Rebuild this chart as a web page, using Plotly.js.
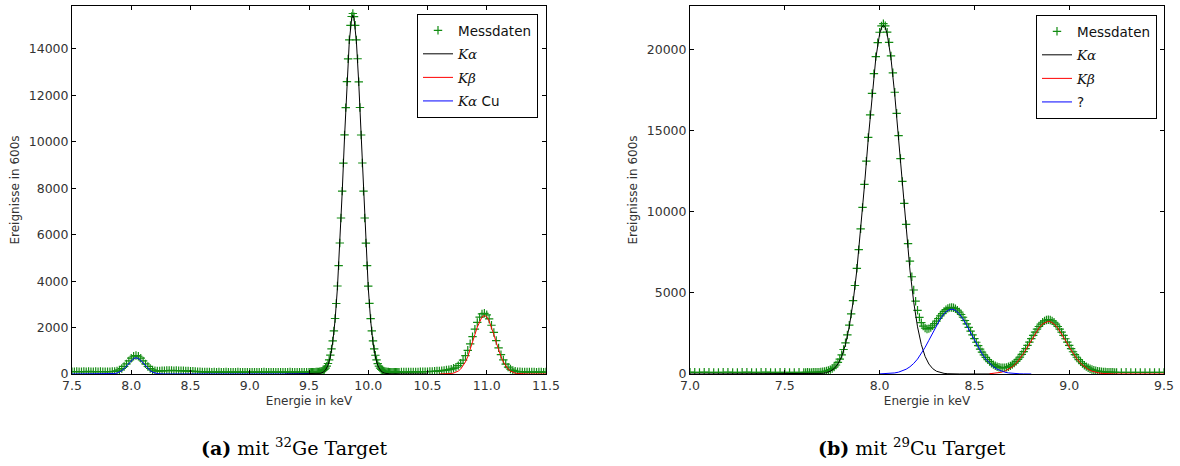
<!DOCTYPE html>
<html>
<head>
<meta charset="utf-8">
<script src="https://cdn.plot.ly/plotly-3.0.1.min.js"></script>
<style>html,body{margin:0;padding:0;background:#fff}#chart{width:1180px;height:466px}</style>
</head>
<body>
<div id="chart"></div>
<script>
// ---------- (a) Ge target: measured data ----------
const geX = [
7.50,7.52,7.54,7.56,7.58,7.60,7.62,7.64,7.66,7.68,
7.70,7.72,7.74,7.76,7.78,7.80,7.82,7.84,7.86,7.88,
7.90,7.92,7.94,7.96,7.98,8.00,8.02,8.04,8.06,8.08,
8.10,8.12,8.14,8.16,8.18,8.20,8.22,8.24,8.26,8.28,
8.30,8.32,8.34,8.36,8.38,8.40,8.42,8.44,8.46,8.48,
8.50,8.52,8.54,8.56,8.58,8.60,8.62,8.64,8.66,8.68,
8.70,8.72,8.74,8.76,8.78,8.80,8.82,8.84,8.86,8.88,
8.90,8.92,8.94,8.96,8.98,9.00,9.02,9.04,9.06,9.08,
9.10,9.12,9.14,9.16,9.18,9.20,9.22,9.24,9.26,9.28,
9.30,9.32,9.34,9.36,9.38,9.40,9.42,9.44,9.46,9.48,
9.50,9.51,9.52,9.53,9.54,9.55,9.56,9.57,9.58,9.59,
9.60,9.61,9.62,9.63,9.64,9.65,9.66,9.67,9.68,9.69,
9.70,9.71,9.72,9.73,9.74,9.75,9.76,9.77,9.78,9.79,
9.80,9.81,9.82,9.83,9.84,9.85,9.86,9.87,9.88,9.89,
9.90,9.91,9.92,9.93,9.94,9.95,9.96,9.97,9.98,9.99,
10.00,10.01,10.02,10.03,10.04,10.05,10.06,10.07,10.08,10.09,
10.10,10.11,10.12,10.13,10.14,10.15,10.16,10.17,10.18,10.19,
10.20,10.21,10.22,10.23,10.24,10.25,
10.26,10.28,10.30,10.32,10.34,10.36,10.38,10.40,10.42,10.44,
10.46,10.48,10.50,10.52,10.54,10.56,10.58,10.60,10.62,10.64,
10.66,10.68,10.70,10.72,10.74,10.76,10.78,10.80,10.82,10.84,
10.86,10.88,10.90,10.92,10.94,10.96,10.98,11.00,11.02,11.04,
11.06,11.08,11.10,11.12,11.14,11.16,11.18,11.20,11.22,11.24,
11.26,11.28,11.30,11.32,11.34,11.36,11.38,11.40,11.42,11.44,
11.46,11.48,11.50];
const geY = [
104,99,108,102,97,106,101,110,103,98,
105,100,107,102,99,104,101,108,114,135,
174,236,325,438,564,681,764,795,764,681,
564,438,325,236,174,140,128,131,138,145,
150,148,153,146,151,144,141,138,135,130,
124,117,110,104,98,93,90,86,84,82,
85,80,83,79,81,84,78,82,80,77,
83,79,81,78,80,82,79,77,81,78,
80,83,79,81,78,80,82,79,77,81,
78,80,83,79,81,78,80,82,79,81,
78,80,77,81,79,82,84,83,90,94,
110,124,156,194,255,338,452,607,810,1082,
1425,1858,2390,3037,3790,4665,5642,6718,7876,9085,
10296,11474,12590,13573,14395,15012,15398,15528,15392,15018,
14392,13578,12585,11479,10293,9088,7874,6719,5640,4667,
3786,3038,2389,1857,1423,1083,808,606,449,337,
252,197,153,128,107,98,88,84,80,79,
81,78,80,82,79,81,
82,83,84,86,85,88,89,90,92,94,
97,100,104,108,113,119,126,134,144,156,
170,188,212,245,290,360,460,600,790,1020,
1300,1610,1930,2220,2450,2590,2615,2550,2372,2100,
1790,1440,1125,835,606,428,296,214,158,122,
104,96,90,88,85,86,83,84,82,85,
83,81,84];

// (a) fits
const geKaX = [9.30,9.56,9.58,9.60,9.62,9.64,9.66,9.68,9.70,9.72,9.74,9.76,9.78,9.80,9.82,9.84,9.86,9.87,
               9.88,9.90,9.92,9.94,9.96,9.98,10.00,10.02,10.04,10.06,10.08,10.10,10.12,10.14,10.16,10.18,10.50];
const geKaY = [0,5,13,33,79,178,375,735,1350,2316,3714,5568,7802,10220,12513,14320,15320,15450,
               15320,14320,12513,10220,7802,5568,3714,2316,1350,735,375,178,79,33,13,5,0];
const geKbX = [10.60,10.62,10.64,10.66,10.68,10.70,10.72,10.74,10.76,10.78,10.80,10.82,10.84,10.86,10.88,10.90,10.92,10.94,10.96,10.98,
               11.00,11.02,11.04,11.06,11.08,11.10,11.12,11.14,11.16,11.18,11.20,11.22,11.24,11.26,11.28,11.30,11.32,11.34,11.50];
const geKbY = [0,1,2,4,10,20,39,72,127,213,341,519,752,1036,1359,1698,2018,2283,2459,2520,
               2459,2283,2018,1698,1359,1036,752,519,341,213,127,72,39,20,10,4,2,1,0];
const geCuX = [7.50,7.78,7.80,7.82,7.84,7.86,7.88,7.90,7.92,7.94,7.96,7.98,8.00,8.02,8.04,
               8.06,8.08,8.10,8.12,8.14,8.16,8.18,8.20,8.22,8.24,8.26,8.28,9.50];
const geCuY = [0,0,1,3,8,19,40,79,141,230,343,469,586,669,700,
               669,586,469,343,230,141,79,40,19,8,3,1,0];

// ---------- (b) Cu target: measured data ----------
const cuX = [
7.000,7.025,7.050,7.075,7.100,7.125,7.150,7.175,7.200,7.225,7.250,7.275,
7.300,7.325,7.350,7.375,7.400,7.425,7.450,7.475,7.500,7.525,7.550,7.575,
7.60,7.61,7.62,7.63,7.64,7.65,7.66,7.67,7.68,7.69,
7.70,7.71,7.72,7.73,7.74,7.75,7.76,7.77,7.78,7.79,
7.80,7.81,7.82,7.83,7.84,7.85,7.86,7.87,7.88,7.89,
7.90,7.91,7.92,7.93,7.94,7.95,7.96,7.97,7.98,7.99,
8.00,8.01,8.02,8.03,8.04,8.05,8.06,8.07,8.08,8.09,
8.10,8.11,8.12,8.13,8.14,8.15,8.16,8.17,8.18,8.19,
8.20,8.21,8.22,8.23,8.24,8.25,8.26,8.27,8.28,8.29,
8.30,8.31,8.32,8.33,8.34,8.35,8.36,8.37,8.38,8.39,
8.40,8.41,8.42,8.43,8.44,8.45,8.46,8.47,8.48,8.49,
8.50,8.51,8.52,8.53,8.54,8.55,8.56,8.57,8.58,8.59,
8.60,8.61,8.62,8.63,8.64,8.65,8.66,8.67,8.68,8.69,
8.70,8.71,8.72,8.73,8.74,8.75,8.76,8.77,8.78,8.79,
8.80,8.81,8.82,8.83,8.84,8.85,8.86,8.87,8.88,8.89,
8.90,8.91,8.92,8.93,8.94,8.95,8.96,8.97,8.98,8.99,
9.00,9.01,9.02,9.03,9.04,9.05,9.06,9.07,9.08,9.09,
9.10,9.11,9.12,9.13,9.14,9.15,9.16,9.17,9.18,9.19,
9.20,9.21,9.22,9.23,9.24,9.25,
9.275,9.300,9.325,9.350,9.375,9.400,9.425,9.450,9.475,9.500];
const cuY = [
110,104,98,112,106,101,95,108,113,100,97,105,
110,102,99,107,111,103,96,104,109,101,98,106,
102,98,104,101,103,105,106,112,118,127,
140,158,182,221,268,340,430,556,714,920,
1185,1510,1925,2410,3015,3705,4530,5460,6520,7670,
8950,10280,11700,13130,14590,15990,17310,18530,19580,20440,
21080,21470,21610,21480,21090,20460,19620,18580,17380,16080,
14700,13290,11880,10520,9230,8040,6960,6000,5180,4490,
3930,3490,3170,2955,2830,2780,2800,2865,2975,3110,
3260,3425,3580,3730,3860,3965,4045,4095,4105,4085,
4030,3940,3820,3670,3500,3300,3095,2870,2640,2410,
2180,1960,1745,1540,1355,1183,1028,890,768,663,
577,505,451,412,388,381,387,411,449,504,
578,669,776,903,1045,1205,1380,1568,1765,1970,
2177,2381,2578,2763,2930,3074,3192,3279,3332,3350,
3332,3279,3192,3074,2930,2762,2577,2380,2175,1968,
1762,1564,1374,1197,1034,887,755,640,540,454,
382,323,273,234,202,177,157,142,131,122,
116,111,108,105,103,102,
99,104,101,97,103,100,98,102,99,101];

// (b) fits
const cuKaX = [7.00,7.60,7.62,7.64,7.66,7.68,7.70,7.72,7.74,7.76,7.78,7.80,7.82,7.84,7.86,7.88,7.90,7.92,7.94,7.96,7.98,8.00,
               8.01,8.02,8.03,
               8.04,8.06,8.08,8.10,8.12,8.14,8.16,8.18,8.20,8.22,8.24,8.26,8.28,8.30,8.32,8.34,8.36,8.38,8.40,8.42,8.60];
const cuKaY = [0,0,1,2,7,17,39,83,170,331,615,1083,1821,2909,4427,6411,8839,11597,14482,17215,19479,20975,
               21368,21500,21368,
               20975,19479,17215,14482,11597,8839,6411,4427,2909,1821,1083,615,331,170,83,39,17,7,2,1,0];
const cuKbX = [8.58,8.60,8.62,8.64,8.66,8.68,8.70,8.72,8.74,8.76,8.78,8.80,8.82,8.84,8.86,8.88,8.89,
               8.90,8.92,8.94,8.96,8.98,9.00,9.02,9.04,9.06,9.08,9.10,9.12,9.14,9.16,9.18,9.20,9.22,9.24,9.50];
const cuKbY = [16,31,57,102,173,282,440,655,934,1274,1662,2075,2477,2830,3092,3232,3250,
               3232,3092,2830,2477,2075,1662,1274,934,655,440,282,173,102,57,31,16,8,4,0];
const cuUnkX = [8.00,8.02,8.04,8.06,8.08,8.10,8.12,8.14,8.16,8.18,8.20,8.22,8.24,8.26,8.28,8.30,8.32,8.34,8.36,8.38,
                8.40,8.42,8.44,8.46,8.48,8.50,8.52,8.54,8.56,8.58,8.60,8.62,8.64,8.66,8.68,8.70,8.72,8.74,8.76,8.78,8.80];
const cuUnkY = [6,11,21,38,67,114,186,294,446,652,920,1253,1644,2082,2542,2992,3397,3720,3928,4000,
                3928,3720,3397,2992,2542,2082,1644,1253,920,652,446,294,186,114,67,38,21,11,6,3,1];

// ---------- ticks & labels ----------
const xTicksA = [7.5,8.0,8.5,9.0,9.5,10.0,10.5,11.0,11.5];
const yTicksA = [0,2000,4000,6000,8000,10000,12000,14000];
const xTicksB = [7.0,7.5,8.0,8.5,9.0,9.5];
const yTicksB = [0,5000,10000,15000,20000];
const xTitle = 'Energie in keV';
const yTitle = 'Ereignisse in 600s';
const KA = '<span style="font-family:DejaVu Serif;font-style:italic">Kα</span>';
const KB = '<span style="font-family:DejaVu Serif;font-style:italic">Kβ</span>';
const namesA = ['Messdaten', KA, KB, KA + ' Cu'];
const namesB = ['Messdaten', KA, KB, '?'];
const captionA = '<b>(a)</b> mit <sup>32</sup>Ge Target';
const captionB = '<b>(b)</b> mit <sup>29</sup>Cu Target';

const W = 1180, H = 466;
const GREEN = '#128c12';

function dataTrace(x, y, name, xa, ya, leg) {
  return {x, y, name, xaxis: xa, yaxis: ya, legend: leg, legendgroup: leg + name,
    type: 'scatter', mode: 'markers',
    marker: {symbol: 'cross-thin', size: 6, color: GREEN, line: {width: 1.2, color: GREEN}}};
}
function fitTrace(x, y, name, color, xa, ya, leg) {
  return {x, y, name, xaxis: xa, yaxis: ya, legend: leg, legendgroup: leg + name,
    type: 'scatter', mode: 'lines', line: {color, width: 1}};
}

const traces = [
  dataTrace(geX, geY, namesA[0], 'x', 'y', 'legend'),
  fitTrace(geKaX, geKaY, namesA[1], '#000000', 'x', 'y', 'legend'),
  fitTrace(geKbX, geKbY, namesA[2], '#ff0000', 'x', 'y', 'legend'),
  fitTrace(geCuX, geCuY, namesA[3], '#0000ff', 'x', 'y', 'legend'),
  dataTrace(cuX, cuY, namesB[0], 'x2', 'y2', 'legend2'),
  fitTrace(cuKaX, cuKaY, namesB[1], '#000000', 'x2', 'y2', 'legend2'),
  fitTrace(cuKbX, cuKbY, namesB[2], '#ff0000', 'x2', 'y2', 'legend2'),
  fitTrace(cuUnkX, cuUnkY, namesB[3], '#0000ff', 'x2', 'y2', 'legend2')
];

function axisBase() {
  return {showline: true, linecolor: '#000', linewidth: 1, mirror: 'ticks', ticks: 'inside',
    ticklen: 4, tickcolor: '#000', showgrid: false, zeroline: false, fixedrange: true,
    tickfont: {family: 'DejaVu Sans', size: 12.5, color: '#333'}};
}
const xa = Object.assign(axisBase(), {domain: [72 / W, 546 / W], range: [7.5, 11.5], anchor: 'y',
  tickmode: 'array', tickvals: xTicksA, ticktext: xTicksA.map(v => v.toFixed(1)),
  title: {text: xTitle, font: {size: 12, color: '#333'}, standoff: 4}});
const ya = Object.assign(axisBase(), {domain: [92 / H, 460 / H], range: [0, 15850], anchor: 'x',
  tickmode: 'array', tickvals: yTicksA, ticktext: yTicksA.map(String),
  title: {text: yTitle, font: {size: 12, color: '#333'}, standoff: 6}});
const xb = Object.assign(axisBase(), {domain: [690 / W, 1164 / W], range: [7.0, 9.5], anchor: 'y2',
  tickmode: 'array', tickvals: xTicksB, ticktext: xTicksB.map(v => v.toFixed(1)),
  title: {text: xTitle, font: {size: 12, color: '#333'}, standoff: 4}});
const yb = Object.assign(axisBase(), {domain: [92 / H, 460 / H], range: [0, 22700], anchor: 'x2',
  tickmode: 'array', tickvals: yTicksB, ticktext: yTicksB.map(String),
  title: {text: yTitle, font: {size: 12, color: '#333'}, standoff: 6}});

function legendBox(xr, yt) {
  return {x: xr / W, y: 1 - yt / H, xanchor: 'right', yanchor: 'top', bgcolor: '#fff',
    bordercolor: '#000', borderwidth: 1, traceorder: 'grouped', tracegroupgap: 3,
    font: {family: 'DejaVu Sans', size: 13.5, color: '#111'}};
}

const layout = {
  width: W, height: H, margin: {l: 0, r: 0, t: 0, b: 0},
  paper_bgcolor: '#fff', plot_bgcolor: '#fff', showlegend: true,
  font: {family: 'DejaVu Sans', size: 12, color: '#333'},
  xaxis: xa, yaxis: ya, xaxis2: xb, yaxis2: yb,
  legend: legendBox(538, 14), legend2: legendBox(1157, 15),
  annotations: [
    {text: captionA, xref: 'paper', yref: 'paper', x: 294 / W, y: 1 - 447 / H, showarrow: false,
     xanchor: 'center', yanchor: 'middle', font: {family: 'DejaVu Serif', size: 19, color: '#000'}},
    {text: captionB, xref: 'paper', yref: 'paper', x: 912 / W, y: 1 - 447 / H, showarrow: false,
     xanchor: 'center', yanchor: 'middle', font: {family: 'DejaVu Serif', size: 19, color: '#000'}}
  ]
};

Plotly.newPlot('chart', traces, layout, {staticPlot: true, displayModeBar: false});
</script>
</body>
</html>
